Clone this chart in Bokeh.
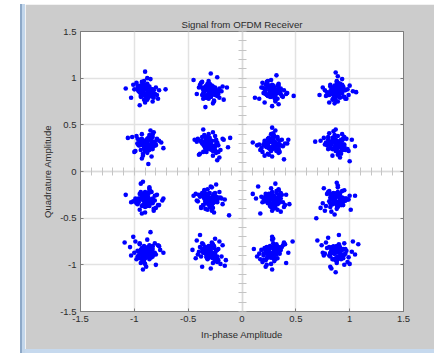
from bokeh.plotting import figure
from bokeh.models import LinearAxis, FixedTicker, SingleIntervalTicker, Range1d, Div, ColumnDataSource
from bokeh.layouts import row, column
from bokeh.embed import file_html
from bokeh.resources import INLINE

title_text = "Signal from OFDM Receiver"
x_label = "In-phase Amplitude"
y_label = "Quadrature Amplitude"
tick_values = [-1.5, -1.0, -0.5, 0.0, 0.5, 1.0, 1.5]
tick_labels = ["-1.5", "-1", "-0.5", "0", "0.5", "1", "1.5"]

# constellation centres
i_levels = [-0.89, -0.30, 0.28, 0.88]   # columns, left to right
q_levels = [0.86, 0.29, -0.30, -0.87]   # rows, top to bottom

# received samples around each centre, offsets in hundredths (row r, column c)
# outer scatter
c00_dx = [3,-5,1,-8,12,0,-2,6,-11,4, -3,7,-1,2,-6,9,-14,1,5,-4, 0,-9,3,11,-2,6,-7,2,-1,18, -5,4,-3,8,-12,1,-6,3,0,-2, 5,-8,10,-4,2,-19,7,-1,4,-3]
c00_dy = [-2,6,-9,3,1,-4,11,-6,2,0, 8,-3,-12,5,-1,4,-7,14,0,-5, 3,9,-2,-8,6,-11,1,4,-4,2, -6,13,0,-3,7,-1,-15,5,2,-9, 1,6,-4,10,-2,3,-7,21,-5,0]
c01_dx = [-4,2,9,-1,-7,5,0,13,-3,1, 6,-10,3,-2,8,-5,1,-15,4,0, -6,2,11,-3,7,-1,-9,4,0,-2, 16,-4,3,-8,1,5,-12,2,-1,6, -3,9,-6,0,4,-2,12,-7,1,-5]
c01_dy = [5,-1,-7,3,10,-4,1,-9,6,-2, 0,4,-13,8,-3,2,-6,12,-1,5, -8,3,0,-5,15,-2,7,-10,1,-4, 4,-17,2,9,-6,0,-3,6,11,-1, -7,3,-2,8,-11,1,5,-4,19,-6]
c02_dx = [1,-6,4,10,-2,-9,3,0,7,-4, -12,5,-1,2,-7,14,-3,6,0,-5, 9,-2,3,-10,1,-4,8,-1,5,-16, 2,-7,11,-3,0,4,-8,6,-2,1, -5,13,-1,3,-9,7,0,-3,20,-6]
c02_dy = [-3,7,0,-6,2,9,-11,4,-1,5, -8,1,12,-4,3,-2,6,-14,0,8, -5,2,-9,4,-1,11,-3,0,6,-7, 3,-12,1,5,-4,17,-2,8,-6,0, 10,-3,2,-8,4,-1,-16,6,-5,1]
c03_dx = [6,-3,0,-9,4,11,-2,1,-6,3, -1,8,-13,2,5,-4,0,15,-7,3, -2,7,-10,1,4,-5,9,-1,2,-8, 12,-3,0,6,-11,3,-1,-6,18,1, -4,5,-2,10,-7,0,3,-16,7,-1]
c03_dy = [2,-7,10,-1,5,-4,0,-11,7,3, -6,1,4,-2,13,-9,6,0,-3,8, -13,2,-5,9,-1,4,-8,20,0,-4, 6,-2,11,-6,1,3,-10,5,-1,16, -3,7,-5,2,-12,0,8,-4,1,-7]

c10_dx = [-2,5,-8,1,10,-4,3,-13,0,6, -1,-6,9,2,-3,14,-9,4,0,-5, 7,-2,1,-11,5,-1,3,-7,12,-4, 0,6,-17,2,-3,8,-1,4,-10,1, -6,3,16,-2,5,-8,0,9,-4,2]
c10_dy = [4,-3,1,-9,6,0,-5,8,-2,11, -7,3,-1,5,-12,2,9,-4,0,-6, 13,-2,6,-8,1,-3,10,-1,4,-15, 2,-5,7,0,-10,3,-2,15,-7,5, -1,8,-4,1,-13,6,-3,0,11,-21]
c11_dx = [0,7,-4,2,-10,5,-1,12,-6,3, -3,1,-8,9,-2,4,-14,0,6,-5, 2,-11,8,-1,3,-7,10,0,-3,17, -6,4,-2,1,13,-9,5,-4,0,7, -12,2,-1,6,-5,19,-3,1,-8,4]
c11_dy = [-5,2,8,-1,-11,4,0,6,-8,13, 1,-4,3,-14,7,-2,5,0,-9,10, -3,6,-1,2,-12,8,-6,4,0,-3, 16,-7,2,-1,5,-10,9,-4,1,-17, 3,-6,11,0,-2,7,-8,1,4,-5]
c12_dx = [4,-1,-7,10,2,-4,0,-12,6,-3, 8,1,-9,3,-5,15,0,-2,5,-10, 1,-6,12,-1,3,-14,7,-3,2,0, -8,5,-2,11,-4,1,-18,6,-1,3, 9,-5,0,-11,4,-2,7,14,-7,1]
c12_dy = [1,-6,4,-2,9,-10,3,0,-5,7, -1,12,-8,2,-3,5,-13,6,0,-4, 10,-2,1,-7,15,-1,4,-11,3,-5, 0,8,-3,-16,6,-1,2,-9,11,-4, 5,-2,18,-6,0,3,-8,1,-12,7]
c13_dx = [-6,3,0,9,-2,-11,5,1,-4,14, -1,7,-8,2,-3,11,0,-15,4,-5, 6,-2,1,-9,8,-1,3,-12,0,5, -7,17,-3,2,-5,10,-1,4,-20,1, 7,-4,0,12,-8,3,-2,6,-10,2]
c13_dy = [3,-8,1,6,-4,0,11,-2,-12,5, -1,8,-5,2,14,-7,0,4,-10,1, 6,-3,9,-1,-6,2,-14,7,0,-4, 12,-2,4,-9,1,-5,16,-1,3,-11, 0,7,-3,-18,5,-2,10,-6,2,-1]

c20_dx = [5,-2,-9,1,7,-5,0,12,-3,3, -7,2,-1,10,-12,4,-4,0,8,-6, 1,15,-2,-8,3,-1,6,-14,2,-3, 9,0,-5,4,-10,1,-19,7,-2,3, -6,11,0,-4,2,-9,5,-1,16,-3]
c20_dy = [-1,6,-4,2,-10,8,0,-6,3,12, -3,1,-14,5,-2,9,-7,0,4,-11, 7,-1,2,-5,13,-8,1,-3,6,0, -9,3,17,-4,1,-7,5,-12,-2,10, 0,-6,4,-15,2,-2,8,-4,1,19]
c21_dx = [-3,6,1,-8,3,-1,11,-5,0,8, -12,2,-4,5,-2,14,-7,1,-10,4, 0,-6,9,-1,3,-15,6,-3,1,12, -5,2,-9,7,-1,0,-13,4,-2,18, 3,-7,0,10,-4,5,-11,1,-6,2]
c21_dy = [6,-2,0,-9,4,-5,1,10,-7,2, -1,13,-4,3,-11,0,7,-3,5,-14, 2,-6,8,-1,-9,4,16,-2,0,-5, 9,-12,3,-3,1,-8,6,-1,11,-17, 0,5,-4,2,-10,7,-2,14,-6,1]
c22_dx = [2,-5,8,-1,-10,4,0,13,-3,6, -7,1,-2,10,-13,3,-4,7,0,-8, 5,-1,16,-6,2,-11,4,-3,9,-1, -15,6,0,-4,3,12,-7,1,-2,5, -9,0,8,-5,2,-18,4,-1,11,-3]
c22_dy = [-4,1,7,-8,3,0,-12,5,-1,10, 2,-6,0,-3,14,-9,4,-2,8,1, -11,6,-5,0,3,-15,9,-2,5,-7, 1,11,-4,-1,17,-6,2,-10,4,0, -3,7,-13,2,-5,6,-1,12,-8,3]
c23_dx = [-1,4,-7,10,1,-4,6,-12,0,3, -9,13,-2,5,-6,1,-15,8,-3,0, 11,-5,2,-1,7,-10,4,-2,17,-8, 3,-4,0,9,-13,1,6,-3,2,-19, 5,-1,12,-6,0,8,-4,3,-11,1]
c23_dy = [2,-5,9,0,-8,4,-2,12,-6,1, 6,-11,3,-1,-4,15,-9,1,7,-3, 0,-13,5,-2,10,-7,2,-16,4,8, -1,6,-10,1,-4,13,-6,0,3,-20, 9,-2,4,-8,18,-1,-5,2,-12,6]

c30_dx = [4,-3,0,9,-6,2,-11,6,-1,13, -4,1,-8,5,-2,-15,8,0,3,-7, 11,-1,4,-5,2,-10,7,-3,0,16, -12,3,-6,1,9,-2,5,-9,0,-20, 6,-4,2,12,-7,1,-3,8,-14,4]
c30_dy = [1,-7,5,-2,10,-5,0,7,-12,3, -1,14,-4,2,-9,6,0,-15,4,-3, 8,-6,1,-11,3,12,-2,-8,5,0, 17,-4,9,-1,-13,2,6,-7,-2,11, 4,-10,0,7,-5,2,-18,10,-3,22]
c31_dx = [-2,7,1,-6,11,-4,3,-9,0,5, -12,2,8,-3,1,-7,14,-1,4,-10, 6,-5,0,9,-2,-16,3,-8,12,1, -4,7,-1,-11,5,0,-6,2,15,-3, 1,-9,10,-2,4,-13,6,-1,3,-7]
c31_dy = [-6,3,-1,9,-4,1,-11,6,2,-8, 13,-2,4,-5,0,10,-14,7,-3,1, -9,5,-1,12,-7,3,0,-4,8,-17, 2,-10,6,-2,15,-5,1,11,-8,4, -3,19,-12,0,7,-6,2,-1,9,-15]
c32_dx = [6,-2,-8,3,0,11,-5,1,-12,4, -1,8,-4,2,15,-9,0,-3,6,-14, 3,-6,10,-1,5,-11,1,-2,13,-7, 0,4,-17,2,-3,9,-5,7,-1,19, -8,3,0,-10,5,-2,12,-4,1,-6]
c32_dy = [0,5,-8,2,-3,11,-6,4,-1,9, -12,3,-5,7,0,-10,14,-2,6,-4, 1,-15,8,-1,3,-7,10,-3,-11,5, 17,-2,4,-9,1,6,-13,2,-5,12, -1,8,-18,3,-6,0,9,-4,15,-8]
c33_dx = [-5,1,7,-2,4,-9,0,12,-3,6, -13,2,-1,9,-6,3,-11,15,0,-4, 5,-8,1,-2,10,-14,4,-1,7,-6, 2,17,-10,0,-3,8,-5,1,-18,11, 3,-7,0,6,-12,2,-4,14,-1,20]
c33_dy = [3,-4,10,-1,-7,5,1,-12,7,-3, 0,9,-6,2,-15,4,-1,12,-9,6, -2,16,-5,1,-10,8,-3,3,-13,0, 7,-2,11,-8,5,-1,-17,2,13,-5, 0,6,-11,4,-3,19,-7,1,-21,9]

# dense cores
k00_dx = [2,-3,0,5,-6,1,-1,4,-4,7, 0,-2,3,-7,6,-5,1,2,-1,-3, 4,0,-6,8,-2,3,-4,1,5,-8]
k00_dy = [-1,4,-5,2,0,-3,6,-2,3,1, -6,5,-1,0,2,-4,7,-7,3,-2, 1,-5,4,-3,6,0,-1,8,-4,2]
k01_dx = [-1,4,-3,0,6,-5,2,-2,3,-6, 1,5,-4,0,-1,7,-3,2,-7,4, 0,-2,6,-5,3,1,-4,8,-1,-6]
k01_dy = [3,-2,5,-6,1,0,-4,6,-1,2, -3,4,-7,7,0,-5,2,-1,4,-3, 6,1,-2,-4,5,-6,3,0,-8,2]
k02_dx = [0,-4,3,6,-2,1,-6,4,-1,2, 5,-3,7,-5,0,-7,2,-2,4,1, -4,3,-1,6,-6,0,5,-3,8,-2]
k02_dy = [2,-5,0,3,-1,6,-3,1,-6,4, -2,5,0,-4,7,2,-7,3,-1,-3, 4,-5,1,6,-2,0,-8,5,3,-4]
k03_dx = [3,-1,-5,2,6,-3,0,4,-6,1, -2,7,-4,5,0,-7,2,-3,3,1, -5,6,-1,4,-2,0,-6,8,1,-4]
k03_dy = [-2,4,1,-5,3,-1,6,0,-3,5, 2,-6,4,-2,7,-4,0,1,-7,3, -1,5,-3,2,6,-5,0,-8,4,1]

k10_dx = [-3,2,5,-1,0,-6,4,-2,6,1, -4,3,-7,0,2,-1,7,-5,1,-3, 5,-2,0,4,-6,3,-4,2,-8,6]
k10_dy = [1,-4,3,0,-6,5,-2,4,-1,2, 6,-3,0,-5,7,1,-2,3,-7,-1, 4,-4,2,5,0,-6,3,-3,1,8]
k11_dx = [2,-2,0,6,-4,3,-6,1,4,-1, -5,5,-3,0,7,-2,2,-7,3,-1, 0,6,-4,1,-3,4,-6,5,-2,8]
k11_dy = [-3,5,1,-1,4,-6,2,0,-4,6, 3,-2,-5,7,0,-3,4,1,-7,2, -1,5,-4,3,6,-2,0,-6,2,-8]
k12_dx = [-2,4,1,-5,3,0,-3,6,-1,2, -6,5,-2,0,7,-4,1,3,-7,4, -1,-3,6,2,-5,0,4,-4,1,-8]
k12_dy = [4,-1,-4,2,0,5,-3,-6,3,1, -2,6,-5,4,-1,0,7,-3,2,-7, 5,-4,1,3,-2,6,-6,0,8,-1]
k13_dx = [1,-3,4,-1,-6,2,5,0,-4,3, 6,-2,0,-5,2,7,-3,1,-7,4, -1,3,-6,5,0,-2,6,-4,2,-8]
k13_dy = [-2,3,0,5,-4,1,-6,4,2,-1, 6,-3,-5,0,3,-2,7,-4,1,5, -7,2,-1,4,-3,6,0,-5,3,8]

k20_dx = [-1,3,-4,0,5,-2,2,-6,4,1, -3,6,-5,0,2,-1,7,-4,3,-7, 1,-2,5,-3,0,6,-6,4,-1,8]
k20_dy = [2,-3,5,-1,0,4,-6,1,-2,6, 3,-4,0,-5,7,2,-1,4,-7,1, -3,5,0,-6,3,-2,6,-4,8,-1]
k21_dx = [3,-2,0,-5,4,1,-4,6,-1,2, -6,5,-3,0,7,-2,1,-7,3,4, -1,-4,6,2,-5,0,3,-3,-8,5]
k21_dy = [-1,4,-3,2,6,-5,0,3,-2,-6, 5,1,-4,7,-1,2,-7,4,0,-3, 6,-2,3,-5,1,0,-4,5,-8,2]
k22_dx = [0,3,-2,5,-5,1,-3,4,2,-6, 6,-1,0,-4,3,7,-2,1,-7,4, -3,5,0,-6,2,-1,6,-4,1,8]
k22_dy = [3,-2,1,-5,4,0,6,-3,-1,2, -4,5,-6,1,0,3,-7,4,-2,7, -1,2,-5,6,-3,0,5,-4,-8,1]
k23_dx = [-2,1,4,-4,0,6,-1,3,-6,2, 5,-3,0,-5,4,-1,7,2,-7,1, -3,6,-2,3,0,-6,5,-4,1,8]
k23_dy = [0,5,-2,3,-5,1,4,-1,6,-4, 2,-3,7,0,-6,3,-1,5,-2,-7, 4,1,-4,6,-3,2,0,-5,8,-1]

k30_dx = [1,-4,3,0,-2,5,-5,2,6,-1, -3,4,-6,0,7,-2,1,-7,3,-4, 5,0,-3,6,2,-5,4,-1,-8,3]
k30_dy = [-3,2,0,5,-1,-5,3,6,-4,1, 4,-2,-6,2,0,7,-3,1,-7,5, -1,3,-4,0,6,-2,-5,4,2,8]
k31_dx = [-1,5,2,-3,0,-6,4,1,-4,6, -2,3,-5,7,0,-1,2,-7,5,-3, 1,-4,6,0,-2,4,-6,3,8,-5]
k31_dy = [2,-1,-5,4,0,3,-3,6,1,-6, 5,-2,0,-4,7,2,-1,4,-7,-3, 3,6,-5,1,-2,5,0,-6,-8,4]
k32_dx = [2,-3,5,0,-5,3,-1,6,-4,1, -6,4,0,-2,7,2,-7,3,-3,5, -1,0,6,-5,4,-2,1,-4,-8,3]
k32_dy = [-4,1,3,-2,6,0,-5,4,2,-6, 1,5,-3,7,-1,-2,4,-7,0,3, 6,-4,2,-1,5,-5,0,3,-3,8]
k33_dx = [0,4,-3,2,-6,5,1,-2,6,-4, 3,-1,-5,7,0,2,-7,4,-3,1, 5,-2,0,-6,3,6,-4,2,-1,8]
k33_dy = [3,-3,1,6,-1,-5,4,0,-4,2, -6,5,2,-2,7,0,-3,4,-7,1, 3,-1,5,-4,6,-6,0,2,-8,4]

clusters = [
    [(c00_dx, c00_dy, k00_dx, k00_dy), (c01_dx, c01_dy, k01_dx, k01_dy), (c02_dx, c02_dy, k02_dx, k02_dy), (c03_dx, c03_dy, k03_dx, k03_dy)],
    [(c10_dx, c10_dy, k10_dx, k10_dy), (c11_dx, c11_dy, k11_dx, k11_dy), (c12_dx, c12_dy, k12_dx, k12_dy), (c13_dx, c13_dy, k13_dx, k13_dy)],
    [(c20_dx, c20_dy, k20_dx, k20_dy), (c21_dx, c21_dy, k21_dx, k21_dy), (c22_dx, c22_dy, k22_dx, k22_dy), (c23_dx, c23_dy, k23_dx, k23_dy)],
    [(c30_dx, c30_dy, k30_dx, k30_dy), (c31_dx, c31_dy, k31_dx, k31_dy), (c32_dx, c32_dy, k32_dx, k32_dy), (c33_dx, c33_dy, k33_dx, k33_dy)],
]

xs, ys = [], []
for r, row_clusters in enumerate(clusters):
    for c, (dx, dy, kx, ky) in enumerate(row_clusters):
        for ox, oy in ((dx, dy), (kx, ky)):
            n = min(len(ox), len(oy))
            xs.extend(i_levels[c] + v / 100.0 for v in ox[:n])
            ys.extend(q_levels[r] + v / 100.0 for v in oy[:n])

source = ColumnDataSource(data=dict(x=xs, y=ys))

FONT = "Liberation Sans"
TXT = "#2b2b2b"
BOX = "#7d7d7d"

p = figure(width=409, height=345, x_range=Range1d(-1.5, 1.5), y_range=Range1d(-1.5, 1.5),
           output_backend="svg", toolbar_location=None, title=title_text,
           min_border_left=55, min_border_right=31, min_border_top=27, min_border_bottom=38,
           background_fill_color="white", border_fill_color="#cccccc",
           outline_line_color=BOX, outline_line_width=1)

p.title.align = "center"
p.title.text_font = FONT
p.title.text_font_size = "9.7px"
p.title.text_font_style = "normal"
p.title.text_color = TXT
p.title.standoff = 4

p.xgrid.ticker = FixedTicker(ticks=tick_values)
p.ygrid.ticker = FixedTicker(ticks=tick_values)
for g in (p.xgrid[0], p.ygrid[0]):
    g.grid_line_color = "#e2e2e2"
    g.grid_line_width = 1.5

overrides = dict(zip(tick_values, tick_labels))
for ax, lab in ((p.xaxis[0], x_label), (p.yaxis[0], y_label)):
    ax.ticker = FixedTicker(ticks=tick_values)
    ax.major_label_overrides = overrides
    ax.minor_tick_line_color = None
    ax.major_tick_in = 3
    ax.major_tick_out = 0
    ax.major_tick_line_color = BOX
    ax.axis_line_color = BOX
    ax.major_label_text_font = FONT
    ax.major_label_text_font_size = "9.5px"
    ax.major_label_text_color = TXT
    ax.major_label_standoff = 4
    ax.axis_label = lab
    ax.axis_label_text_font = FONT
    ax.axis_label_text_font_size = "9.5px"
    ax.axis_label_text_font_style = "normal"
    ax.axis_label_text_color = TXT
    ax.axis_label_standoff = 4

right_ax = LinearAxis(ticker=FixedTicker(ticks=tick_values), major_label_text_color=None,
                      major_tick_in=3, major_tick_out=0, major_tick_line_color=BOX,
                      minor_tick_line_color=None, axis_line_color=BOX)
p.add_layout(right_ax, "right")

# axes through the origin with 0.1 ticks
for side in ("below", "left"):
    cax = LinearAxis(fixed_location=0, ticker=SingleIntervalTicker(interval=0.1, num_minor_ticks=0),
                     major_label_text_color=None, major_tick_in=4, major_tick_out=4,
                     major_tick_line_color="#c4c4c4", minor_tick_line_color=None,
                     axis_line_color="#dadada", axis_line_width=1.5)
    p.add_layout(cax, side)

p.scatter("x", "y", source=source, marker="circle", size=4.6, fill_color="#0000ff",
          line_color=None)

stripe = Div(width=25, height=353, margin=0, styles={
    "background": "linear-gradient(to bottom, #ffffff 0px, #ffffff 4px, rgba(0,0,0,0) 4px), "
                  "linear-gradient(to right, #ffffff 0px, #ffffff 20px, #8ea9c8 20px, #8ea9c8 22px, #c2d6eb 22px, #c2d6eb 25px)"})
top = Div(width=409, height=4, margin=0, styles={"background-color": "#ffffff"})
bottom = Div(width=409, height=4, margin=0, styles={"background-color": "#c6d9ee"})

layout = row(stripe, column(top, p, bottom, spacing=0), spacing=0)

open("out.html", "w").write(file_html(layout, INLINE))
